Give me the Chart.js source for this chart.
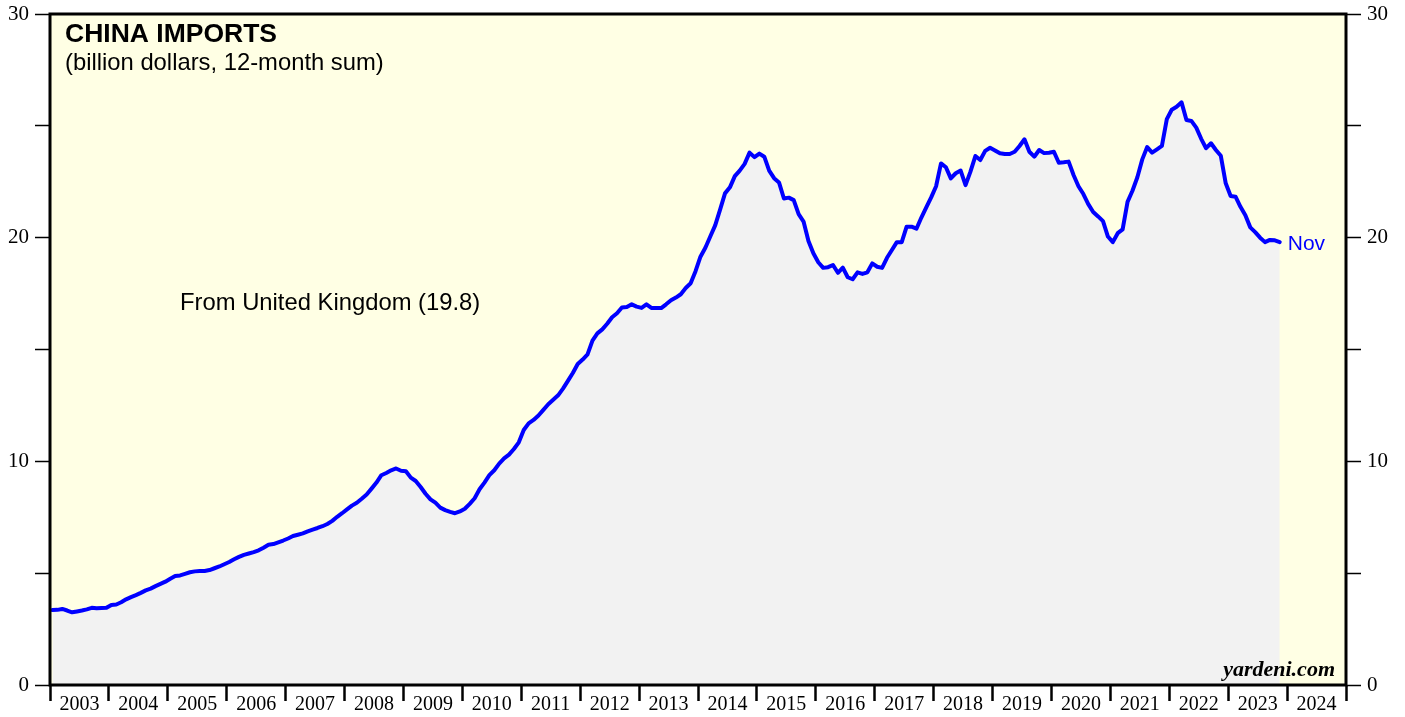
<!DOCTYPE html>
<html>
<head>
<meta charset="utf-8">
<title>China imports from United Kingdom</title>
<script src="https://cdn.jsdelivr.net/npm/chart.js@4/dist/chart.umd.min.js"></script>
<style>
  html, body { margin: 0; padding: 0; background: #fff; }
  canvas { display: block; }
</style>
</head>
<body>
<canvas id="chart" width="1405" height="717"></canvas>
<script>
// year labels on the bottom axis (one per calendar year)
const yearLabels = ['2003', '2004', '2005', '2006', '2007', '2008', '2009', '2010', '2011', '2012', '2013',
  '2014', '2015', '2016', '2017', '2018', '2019', '2020', '2021', '2022', '2023', '2024'];

// left / right axis ticks
const yTicks = [0, 5, 10, 15, 20, 25, 30];
const yLabelled = [0, 10, 20, 30];

// monthly, billion dollars, 12-month sum, Jan 2003 .. Nov 2023
const imports = [
  3.35, 3.36, 3.40, 3.33, 3.25, 3.29, 3.33, 3.38, 3.45, 3.43, 3.44, 3.45,        // 2003
  3.58, 3.60, 3.70, 3.83, 3.93, 4.02, 4.12, 4.23, 4.31, 4.42, 4.52, 4.62,        // 2004
  4.75, 4.87, 4.90, 4.97, 5.04, 5.08, 5.10, 5.10, 5.14, 5.22, 5.30, 5.40,        // 2005
  5.50, 5.62, 5.73, 5.82, 5.88, 5.94, 6.02, 6.14, 6.27, 6.30, 6.38, 6.46,        // 2006
  6.55, 6.66, 6.72, 6.78, 6.87, 6.95, 7.02, 7.10, 7.20, 7.34, 7.52, 7.68,        // 2007
  7.85, 8.02, 8.15, 8.33, 8.52, 8.78, 9.05, 9.38, 9.48, 9.60, 9.68, 9.58,        // 2008
  9.56, 9.27, 9.12, 8.85, 8.55, 8.30, 8.15, 7.93, 7.82, 7.74, 7.68, 7.76,        // 2009
  7.88, 8.10, 8.35, 8.75, 9.05, 9.38, 9.60, 9.90, 10.13, 10.30, 10.55, 10.85,    // 2010
  11.40, 11.70, 11.85, 12.05, 12.30, 12.55, 12.75, 12.95, 13.25, 13.60, 13.95, 14.35, // 2011
  14.55, 14.78, 15.40, 15.72, 15.90, 16.15, 16.44, 16.62, 16.88, 16.90, 17.02, 16.92, // 2012
  16.86, 17.02, 16.86, 16.86, 16.85, 17.02, 17.20, 17.32, 17.47, 17.75, 17.96, 18.50, // 2013
  19.15, 19.55, 20.05, 20.55, 21.25, 21.98, 22.25, 22.75, 23.00, 23.30, 23.80, 23.60, // 2014
  23.76, 23.62, 23.00, 22.66, 22.47, 21.75, 21.79, 21.68, 21.05, 20.72, 19.85, 19.30, // 2015
  18.90, 18.65, 18.68, 18.78, 18.43, 18.66, 18.23, 18.14, 18.45, 18.38, 18.45, 18.85, // 2016
  18.70, 18.65, 19.10, 19.45, 19.80, 19.80, 20.49, 20.49, 20.40, 20.90, 21.35, 21.80, // 2017
  22.30, 23.32, 23.15, 22.65, 22.88, 23.00, 22.35, 22.95, 23.65, 23.47, 23.88, 24.02, // 2018
  23.90, 23.77, 23.74, 23.74, 23.84, 24.10, 24.40, 23.84, 23.62, 23.92, 23.78, 23.80, // 2019
  23.84, 23.35, 23.37, 23.40, 22.80, 22.30, 21.95, 21.50, 21.15, 20.95, 20.74, 20.05, // 2020
  19.80, 20.20, 20.37, 21.60, 22.10, 22.70, 23.50, 24.05, 23.80, 23.95, 24.10, 25.30, // 2021
  25.72, 25.85, 26.05, 25.26, 25.22, 24.92, 24.42, 24.00, 24.22, 23.92, 23.66, 22.43, // 2022
  21.86, 21.83, 21.38, 21.00, 20.46, 20.25, 20.00, 19.80, 19.90, 19.88, 19.80         // 2023
];
const lastMonthLabel = 'Nov';

const title = 'CHINA IMPORTS';
const subtitle = '(billion dollars, 12-month sum)';
const seriesLabel = 'From United Kingdom (19.8)';
const source = 'yardeni.com';

// x axis runs in months from Jan 2003; ticks every 6 months (year marks + label slots)
const monthCount = yearLabels.length * 12;
const xTickVals = [];
for (let m = 0; m <= monthCount; m += 6) xTickVals.push(m);

const points = imports.map((v, i) => ({ x: i + 0.5, y: v }));

// background of the plot, frame and the text annotations
const decorations = {
  id: 'decorations',
  beforeDatasetsDraw(chart) {
    const { ctx, chartArea: a } = chart;
    ctx.save();
    ctx.fillStyle = '#ffffe4';
    ctx.fillRect(a.left, a.top, a.right - a.left, a.bottom - a.top);
    ctx.restore();
  },
  afterDraw(chart) {
    const { ctx, chartArea: a, scales } = chart;
    ctx.save();
    ctx.lineWidth = 3;
    ctx.strokeStyle = '#000';
    ctx.strokeRect(a.left, a.top, a.right - a.left, a.bottom - a.top);

    ctx.fillStyle = '#000';
    ctx.textAlign = 'left';
    ctx.textBaseline = 'alphabetic';
    ctx.font = 'bold 26.5px "Liberation Sans", Arial, sans-serif';
    ctx.fillText(title, 65, 42);
    ctx.font = '23.8px "Liberation Sans", Arial, sans-serif';
    ctx.fillText(subtitle, 65, 70);
    ctx.fillText(seriesLabel, 180, 310);

    // month tag at the end of the line
    const last = points[points.length - 1];
    const px = scales.x.getPixelForValue(last.x);
    const py = scales.y.getPixelForValue(last.y);
    ctx.fillStyle = '#0000ff';
    ctx.font = '21px "Liberation Sans", Arial, sans-serif';
    ctx.fillText(lastMonthLabel, px + 8, py + 8);

    ctx.fillStyle = '#000';
    ctx.textAlign = 'right';
    ctx.font = 'italic bold 22px "Liberation Serif", "Times New Roman", serif';
    ctx.fillText(source, a.right - 11, a.bottom - 9);
    ctx.restore();
  }
};

const yAxis = (position, width) => ({
  position: position,
  min: 0,
  max: 30,
  afterBuildTicks: s => { s.ticks = yTicks.map(v => ({ value: v })); },
  afterFit: s => { s.width = width; s.paddingTop = 0; s.paddingBottom = 0; },
  border: { display: false },
  grid: { drawOnChartArea: false, drawTicks: true, tickLength: 15, tickWidth: 1.5, tickColor: '#000' },
  ticks: {
    padding: 6,
    color: '#000',
    font: { family: '"Liberation Serif", "Times New Roman", serif', size: 21 },
    callback: v => yLabelled.includes(v) ? String(v) : ''
  }
});

new Chart(document.getElementById('chart'), {
  type: 'line',
  data: {
    datasets: [{
      data: points,
      borderColor: '#0000ff',
      borderWidth: 4,
      borderJoinStyle: 'round',
      borderCapStyle: 'round',
      backgroundColor: '#f2f2f2',
      fill: 'origin',
      pointRadius: 0,
      tension: 0
    }]
  },
  options: {
    responsive: false,
    animation: false,
    layout: { padding: { top: 14, left: 0, right: 0, bottom: 0 } },
    plugins: { legend: { display: false }, tooltip: { enabled: false } },
    scales: {
      x: {
        type: 'linear',
        position: 'bottom',
        min: 0,
        max: monthCount,
        afterBuildTicks: s => { s.ticks = xTickVals.map(v => ({ value: v })); },
        afterFit: s => { s.height = 32; s.paddingLeft = 0; s.paddingRight = 0; },
        border: { display: false },
        grid: {
          drawOnChartArea: false,
          drawTicks: true,
          tickLength: 16,
          tickWidth: 2.5,
          tickColor: c => (c.tick && c.tick.value % 12 === 0) ? '#000' : 'rgba(0,0,0,0)'
        },
        ticks: {
          autoSkip: false,
          maxRotation: 0,
          padding: -8,
          color: '#000',
          font: { family: '"Liberation Serif", "Times New Roman", serif', size: 20 },
          callback: v => (v % 12 === 6) ? yearLabels[(v - 6) / 12] : ''
        }
      },
      y: yAxis('left', 50),
      y2: yAxis('right', 59)
    }
  },
  plugins: [decorations]
});
</script>
</body>
</html>
